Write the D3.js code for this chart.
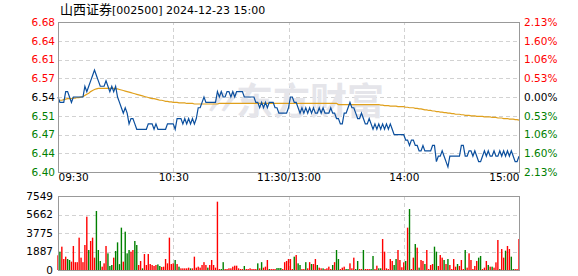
<!DOCTYPE html>
<html>
<head>
<meta charset="utf-8">
<script src="https://cdn.jsdelivr.net/npm/d3@7"></script>
<style>
  body { margin: 0; background: #fff; }
  svg { display: block; }
</style>
</head>
<body>
<div id="chart"></div>
<script>
// chart data
const stockName = "山西证券";
const stockInfo = "[002500] 2024-12-23 15:00";
const timeLabels = ["09:30", "10:30", "11:30/13:00", "14:00", "15:00"];
const timeTicks = [0, 60, 120, 180, 240];
const prevClose = 6.54;
const maxPct = 0.0213;
const priceLabels = ["6.68", "6.64", "6.61", "6.57", "6.54", "6.51", "6.47", "6.44", "6.40"];
const pctLabels = ["2.13%", "1.60%", "1.06%", "0.53%", "0.00%", "0.53%", "1.06%", "1.60%", "2.13%"];
const volMax = 7549;
const volLabels = ["7549", "5662", "3775", "1887", "0"];

// one value per minute, 09:30..11:30 then 13:01..15:00
const prices = [
  6.54, 6.53, 6.53, 6.53, 6.55, 6.55, 6.54, 6.53, 6.54, 6.54,
  6.54, 6.54, 6.54, 6.54, 6.56, 6.55, 6.56, 6.57, 6.58, 6.59,
  6.58, 6.57, 6.56, 6.56, 6.56, 6.57, 6.56, 6.55, 6.56, 6.55,
  6.56, 6.54, 6.53, 6.52, 6.51, 6.52, 6.51, 6.49, 6.50, 6.50,
  6.49, 6.48, 6.48, 6.48, 6.48, 6.48, 6.48, 6.49, 6.49, 6.49,
  6.48, 6.49, 6.48, 6.48, 6.48, 6.48, 6.48, 6.49, 6.49, 6.49,
  6.49, 6.48, 6.50, 6.50, 6.50, 6.49, 6.50, 6.49, 6.50, 6.49,
  6.50, 6.49, 6.50, 6.52, 6.52, 6.53, 6.54, 6.53, 6.53, 6.53,
  6.53, 6.53, 6.53, 6.55, 6.54, 6.55, 6.54, 6.54, 6.55, 6.55,
  6.54, 6.55, 6.54, 6.55, 6.55, 6.55, 6.55, 6.54, 6.54, 6.54,
  6.54, 6.54, 6.54, 6.53, 6.53, 6.52, 6.53, 6.52, 6.53, 6.52,
  6.53, 6.53, 6.53, 6.52, 6.52, 6.51, 6.51, 6.51, 6.51, 6.51,
  6.52, 6.54, 6.54, 6.53, 6.53, 6.52, 6.51, 6.52, 6.51, 6.52,
  6.51, 6.52, 6.51, 6.52, 6.51, 6.51, 6.52, 6.51, 6.52, 6.51,
  6.51, 6.51, 6.52, 6.51, 6.51, 6.50, 6.50, 6.49, 6.49, 6.51,
  6.51, 6.52, 6.53, 6.52, 6.52, 6.51, 6.50, 6.50, 6.51, 6.50,
  6.49, 6.49, 6.50, 6.49, 6.48, 6.49, 6.48, 6.49, 6.48, 6.49,
  6.48, 6.49, 6.48, 6.49, 6.48, 6.47, 6.47, 6.47, 6.47, 6.47,
  6.47, 6.46, 6.46, 6.45, 6.46, 6.46, 6.45, 6.45, 6.44, 6.44,
  6.45, 6.44, 6.44, 6.44, 6.44, 6.45, 6.45, 6.42, 6.43, 6.43,
  6.44, 6.43, 6.42, 6.41, 6.43, 6.43, 6.43, 6.43, 6.43, 6.43,
  6.45, 6.45, 6.43, 6.43, 6.44, 6.44, 6.43, 6.44, 6.43, 6.42,
  6.42, 6.43, 6.44, 6.43, 6.44, 6.43, 6.43, 6.44, 6.43, 6.43,
  6.44, 6.43, 6.44, 6.43, 6.44, 6.43, 6.44, 6.43, 6.42, 6.42,
  6.43
];

const avgPrices = [
  6.534, 6.534, 6.534, 6.535, 6.536, 6.537, 6.537, 6.537, 6.538, 6.538,
  6.539, 6.539, 6.540, 6.541, 6.543, 6.545, 6.547, 6.550, 6.552, 6.554,
  6.555, 6.556, 6.556, 6.556, 6.556, 6.556, 6.556, 6.556, 6.556, 6.556,
  6.555, 6.555, 6.554, 6.553, 6.552, 6.551, 6.550, 6.549, 6.548, 6.547,
  6.546, 6.545, 6.544, 6.543, 6.542, 6.541, 6.540, 6.539, 6.538, 6.537,
  6.537, 6.536, 6.535, 6.534, 6.534, 6.533, 6.532, 6.532, 6.531, 6.531,
  6.530, 6.530, 6.530, 6.529, 6.529, 6.529, 6.529, 6.528, 6.528, 6.528,
  6.528, 6.527, 6.527, 6.527, 6.527, 6.527, 6.527, 6.527, 6.527, 6.527,
  6.527, 6.527, 6.527, 6.527, 6.528, 6.528, 6.528, 6.528, 6.528, 6.528,
  6.528, 6.528, 6.528, 6.528, 6.528, 6.528, 6.528, 6.528, 6.528, 6.528,
  6.528, 6.528, 6.528, 6.528, 6.528, 6.528, 6.528, 6.528, 6.528, 6.528,
  6.528, 6.528, 6.528, 6.528, 6.528, 6.528, 6.528, 6.528, 6.528, 6.528,
  6.528, 6.528, 6.528, 6.528, 6.528, 6.528, 6.528, 6.528, 6.528, 6.528,
  6.528, 6.528, 6.528, 6.528, 6.528, 6.528, 6.528, 6.528, 6.528, 6.528,
  6.528, 6.528, 6.528, 6.528, 6.528, 6.528, 6.526, 6.526, 6.526, 6.526,
  6.526, 6.526, 6.526, 6.526, 6.526, 6.526, 6.526, 6.526, 6.526, 6.526,
  6.526, 6.526, 6.526, 6.526, 6.526, 6.526, 6.526, 6.526, 6.525, 6.525,
  6.524, 6.524, 6.524, 6.523, 6.523, 6.523, 6.523, 6.522, 6.522, 6.522,
  6.522, 6.521, 6.521, 6.520, 6.520, 6.520, 6.519, 6.519, 6.518, 6.518,
  6.517, 6.516, 6.516, 6.515, 6.515, 6.514, 6.514, 6.513, 6.513, 6.512,
  6.512, 6.511, 6.511, 6.510, 6.510, 6.509, 6.509, 6.508, 6.508, 6.508,
  6.507, 6.507, 6.506, 6.506, 6.506, 6.505, 6.505, 6.505, 6.504, 6.504,
  6.504, 6.504, 6.503, 6.503, 6.503, 6.503, 6.502, 6.502, 6.502, 6.501,
  6.501, 6.501, 6.500, 6.500, 6.500, 6.499, 6.499, 6.499, 6.498, 6.498,
  6.497
];

const volumes = [
  1500, 1870, 2380, 1120, 1360, 1120, 1020, 850, 2450, 800,
  800, 3300, 1260, 800, 2550, 5440, 2040, 2960, 3300, 1260,
  6020, 2040, 920, 340, 680, 2450, 1700, 410, 510, 1260,
  1940, 2820, 600, 4320, 850, 3910, 1700, 2040, 1870, 2040,
  2960, 2550, 510, 920, 170, 1630, 510, 1630, 610, 510,
  410, 510, 570, 410, 310, 340, 1120, 680, 3300, 610,
  680, 1020, 610, 340, 170, 170, 170, 170, 240, 170,
  170, 1360, 240, 340, 240, 510, 800, 510, 240, 510,
  1020, 510, 240, 6970, 100, 100, 800, 100, 100, 170,
  170, 340, 440, 440, 170, 100, 100, 410, 100, 100,
  170, 100, 100, 100, 680, 170, 800, 240, 340, 1020,
  100, 100, 100, 100, 200, 200, 200, 100, 800, 920,
  1120, 1120, 100, 1360, 1530, 680, 510, 100, 100, 800,
  170, 800, 610, 610, 1120, 510, 240, 170, 170, 100,
  170, 340, 100, 510, 800, 2040, 1120, 100, 240, 340,
  100, 100, 680, 170, 1260, 100, 920, 100, 100, 2040,
  100, 100, 100, 100, 1430, 100, 440, 170, 170, 3160,
  1870, 170, 100, 1120, 920, 510, 1120, 2040, 1020, 280,
  780, 920, 4320, 6220, 100, 1260, 2650, 2280, 240, 1020,
  920, 610, 2040, 100, 510, 610, 2380, 1870, 410, 1530,
  1260, 1020, 610, 1120, 510, 100, 1120, 340, 610, 410,
  1020, 100, 2040, 240, 1700, 1020, 100, 410, 920, 1260,
  1430, 100, 240, 920, 510, 340, 340, 240, 780, 3060,
  100, 2140, 1260, 1970, 2450, 2140, 1360, 100, 100, 100,
  3160
];

// 1 = red (up), 0 = green (down)
const volUp = [
  1, 0, 1, 1, 1, 0, 0, 1, 1, 1,
  1, 1, 1, 1, 1, 1, 0, 1, 1, 1,
  0, 0, 0, 1, 1, 1, 0, 0, 0, 1,
  0, 0, 0, 0, 1, 0, 0, 0, 1, 1,
  0, 0, 1, 1, 0, 1, 1, 1, 1, 1,
  1, 1, 0, 0, 1, 1, 1, 1, 1, 1,
  1, 0, 1, 0, 1, 1, 1, 1, 1, 0,
  1, 1, 1, 1, 1, 1, 1, 1, 0, 1,
  1, 1, 1, 1, 1, 0, 0, 1, 1, 1,
  1, 1, 1, 1, 1, 1, 1, 0, 1, 1,
  1, 1, 1, 1, 0, 1, 0, 1, 1, 1,
  0, 1, 1, 1, 0, 0, 0, 1, 1, 1,
  1, 1, 1, 0, 1, 0, 0, 1, 1, 0,
  1, 1, 0, 1, 1, 0, 1, 1, 0, 1,
  1, 1, 1, 0, 1, 0, 0, 1, 1, 1,
  0, 0, 1, 1, 1, 0, 0, 1, 1, 0,
  1, 1, 1, 0, 0, 1, 1, 0, 0, 1,
  1, 1, 1, 1, 1, 0, 0, 1, 1, 1,
  1, 0, 1, 0, 1, 1, 0, 1, 0, 1,
  1, 0, 1, 1, 1, 1, 0, 0, 1, 1,
  1, 0, 1, 0, 1, 1, 1, 1, 0, 1,
  1, 1, 0, 1, 1, 1, 1, 1, 1, 0,
  0, 1, 1, 1, 0, 1, 0, 1, 1, 1,
  0, 1, 1, 0, 1, 1, 0, 0, 1, 1,
  1
];

const width = 578, height = 276;
const left = 58, right = 519;
const main = {top: 22, bottom: 172};
const vol = {top: 196, bottom: 270};
const font = "'DejaVu Sans', sans-serif";
const red = "#ff0000", green = "#008000";

const svg = d3.select("#chart").append("svg")
  .attr("width", width)
  .attr("height", height)
  .style("font-family", font);

const x = d3.scaleLinear().domain([0, 240]).range([left, right]);
const y = d3.scaleLinear()
  .domain([prevClose * (1 - maxPct), prevClose * (1 + maxPct)])
  .range([main.bottom, main.top]);
const yv = d3.scaleLinear().domain([0, volMax]).range([vol.bottom, vol.top]);

const [lo, hi] = y.domain();
const priceTicks = priceLabels.map((d, i) => hi - i * (hi - lo) / (priceLabels.length - 1));
const volTicks = volLabels.map((d, i) => volMax * (volLabels.length - 1 - i) / (volLabels.length - 1));

function labelColor(i, n) {
  const mid = (n - 1) / 2;
  return i < mid ? red : (i === mid ? "#000" : green);
}

// grid lines
function grid(g) {
  g.selectAll("line").attr("stroke", "#d2d2d2").attr("stroke-dasharray", "4,3").attr("shape-rendering", "crispEdges");
  g.selectAll("text").remove();
  g.select(".domain").remove();
}

svg.append("g")
  .attr("transform", `translate(${left},0)`)
  .call(d3.axisLeft(y).tickValues(priceTicks.slice(1, -1)).tickSize(-(right - left)).tickFormat(""))
  .call(grid);

svg.append("g")
  .attr("transform", `translate(0,${main.bottom})`)
  .call(d3.axisBottom(x).tickValues(timeTicks.slice(1, -1)).tickSize(-(main.bottom - main.top)).tickFormat(""))
  .call(grid);

svg.append("g")
  .attr("transform", `translate(${left},0)`)
  .call(d3.axisLeft(yv).tickValues(volTicks.slice(1, -1)).tickSize(-(right - left)).tickFormat(""))
  .call(grid);

svg.append("g")
  .attr("transform", `translate(0,${vol.bottom})`)
  .call(d3.axisBottom(x).tickValues(timeTicks.slice(1, -1)).tickSize(-(vol.bottom - vol.top)).tickFormat(""))
  .call(grid);

// watermark
svg.append("text")
  .attr("x", 200)
  .attr("y", 116)
  .attr("fill", "#e5e5ea")
  .style("font-family", "'Noto Sans CJK SC', sans-serif")
  .style("font-size", "40px")
  .style("font-style", "italic")
  .style("font-weight", "bold")
  .text("〃");
svg.append("text")
  .attr("x", 236)
  .attr("y", 115)
  .attr("fill", "#e5e5ea")
  .style("font-family", "'Noto Sans CJK SC', sans-serif")
  .style("font-size", "37px")
  .style("font-weight", "bold")
  .text("东方财富");

// average and price lines
svg.append("path")
  .datum(avgPrices)
  .attr("fill", "none")
  .attr("stroke", "#e0a01c")
  .attr("stroke-width", 1.2)
  .attr("d", d3.line().x((d, i) => x(i)).y(d => y(d)));

svg.append("path")
  .datum(prices)
  .attr("fill", "none")
  .attr("stroke", "#0b4f9e")
  .attr("stroke-width", 1.2)
  .attr("d", d3.line().x((d, i) => x(i)).y(d => y(d)));

// volume bars
svg.append("g")
  .selectAll("rect")
  .data(volumes)
  .enter().append("rect")
    .attr("x", (d, i) => x(i) - 0.7)
    .attr("y", d => yv(d))
    .attr("width", 1.4)
    .attr("height", d => vol.bottom - yv(d))
    .attr("fill", (d, i) => volUp[i] ? red : green);

// frames
[main, vol].forEach(p => {
  svg.append("rect")
    .attr("x", left + 0.5)
    .attr("y", p.top + 0.5)
    .attr("width", right - left)
    .attr("height", p.bottom - p.top)
    .attr("fill", "none")
    .attr("stroke", "#999")
    .attr("shape-rendering", "crispEdges");
});

// axis labels
function labels(g) {
  g.select(".domain").remove();
  g.selectAll("text").style("font-family", font).style("font-size", "10.5px");
}

svg.append("g")
  .attr("transform", `translate(${left - 3},0)`)
  .call(d3.axisLeft(y).tickValues(priceTicks).tickSize(0).tickPadding(0).tickFormat((d, i) => priceLabels[i]))
  .call(labels)
  .selectAll("text").attr("fill", (d, i) => labelColor(i, priceLabels.length));

svg.append("g")
  .attr("transform", `translate(${right + 5},0)`)
  .call(d3.axisRight(y).tickValues(priceTicks).tickSize(0).tickPadding(0).tickFormat((d, i) => pctLabels[i]))
  .call(labels)
  .selectAll("text").attr("fill", (d, i) => labelColor(i, pctLabels.length));

svg.append("g")
  .attr("transform", `translate(${left - 5},0)`)
  .call(d3.axisLeft(yv).tickValues(volTicks).tickSize(0).tickPadding(0).tickFormat((d, i) => volLabels[i]))
  .call(labels)
  .selectAll("text").attr("fill", "#000");

svg.append("g")
  .attr("transform", `translate(0,${main.bottom + 2})`)
  .call(d3.axisBottom(x).tickValues(timeTicks).tickSize(0).tickPadding(0).tickFormat((d, i) => timeLabels[i]))
  .call(labels)
  .selectAll("text")
    .attr("fill", "#000")
    .attr("text-anchor", (d, i) => i === 0 ? "start" : (i === timeTicks.length - 1 ? "end" : "middle"));

// title
const title = svg.append("text")
  .attr("x", 60)
  .attr("y", 14)
  .attr("fill", "#000");
title.append("tspan")
  .style("font-family", "'Noto Sans CJK SC', sans-serif")
  .style("font-size", "13px")
  .text(stockName);
title.append("tspan")
  .style("font-family", font)
  .style("font-size", "11px")
  .text(stockInfo);
</script>
</body>
</html>
